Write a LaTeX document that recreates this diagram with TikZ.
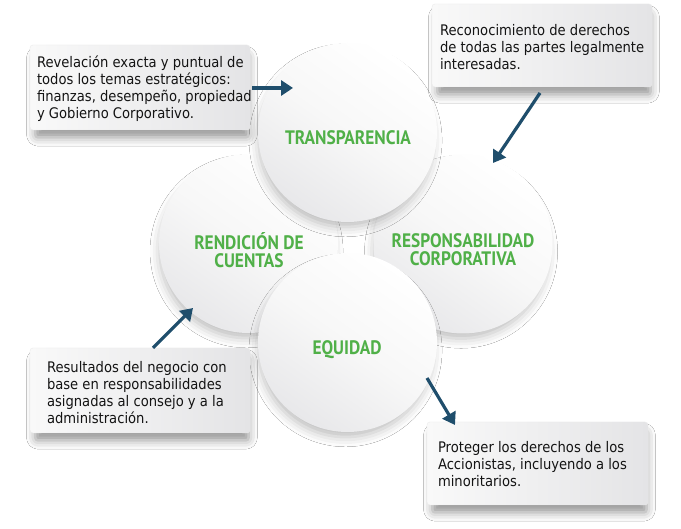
\documentclass[tikz,border=0pt]{standalone}
\usepackage{fontspec}
\usetikzlibrary{arrows.meta,shadows.blur,calc}
\newfontfamily\boxfont[FakeStretch=0.9]{DejaVu Sans}
\newfontfamily\labfont[FakeStretch=0.89]{PT Sans}
\definecolor{labgreen}{RGB}{80,176,72}
\definecolor{arrblue}{RGB}{31,78,108}
\definecolor{txtdark}{RGB}{20,20,20}
\definecolor{boxlight}{RGB}{249,249,249}
\definecolor{boxdark}{RGB}{228,228,230}
\definecolor{circedge}{RGB}{232,232,234}
\begin{document}
\begin{tikzpicture}[x=1pt,y=1pt,
  circ/.style={circle,minimum size=179pt,inner sep=0pt,
    top color=white,bottom color=circedge,middle color=white!97!black,shading angle=-35,
    blur shadow={shadow xshift=-2pt,shadow yshift=-8pt,shadow blur radius=10pt,shadow opacity=26,shadow scale=0.97}},
  lab/.style={font=\labfont\bfseries\fontsize{19.5}{18}\selectfont,text=labgreen,align=center,inner sep=0pt},
  infobox/.style={rectangle,rounded corners=3pt,inner sep=0pt,
    left color=boxlight,right color=boxdark,draw=black!8,line width=0.4pt,
    blur shadow={shadow xshift=2pt,shadow yshift=-9pt,shadow blur radius=9pt,shadow opacity=42,shadow scale=0.97}},
  infotext/.style={font=\boxfont\fontsize{14.6}{17}\selectfont,text=txtdark,align=left,inner sep=0pt,anchor=west},
  arr/.style={draw=arrblue,line width=3.2pt,-{Triangle[length=12pt,width=15pt]}}]
\useasboundingbox (0,0) rectangle (681,-529);
\fill[white] (0,0) rectangle (681,-529);
% circles (back to front)
\node[circ] (rend) at (248.5,-243.5) {};
\node[circ] (resp) at (463,-244) {};
\node[circ] (trans) at (347.5,-132.5) {};
\node[circ] (equi) at (347.5,-342.5) {};
\node[lab] (rendlab) at (249,-250) {RENDICIÓN DE\\CUENTAS};
\node[lab] (resplab) at (463,-250) {RESPONSABILIDAD\\CORPORATIVA};
\node[lab] (translab) at (348,-138) {TRANSPARENCIA};
\node[lab] (equilab) at (347,-350) {EQUIDAD};
% boxes
\node[infobox,minimum width=220pt,minimum height=85pt] (box1) at (140,-87.5) {};
\node[infotext] (t1) at ([xshift=7pt,yshift=-1pt]box1.west) {Revelación exacta y puntual de\\todos los temas estratégicos:\\finanzas, desempeño, propiedad\\y Gobierno Corporativo.};
\node[infobox,minimum width=220pt,minimum height=83pt] (box2) at (542,-45.5) {};
\node[infotext] (t2) at ([xshift=8pt,yshift=-2pt]box2.west) {Reconocimiento de derechos\\de todas las partes legalmente\\interesadas.};
\node[infobox,minimum width=220pt,minimum height=85pt] (box3) at (140,-390.5) {};
\node[infotext] (t3) at ([xshift=17pt,yshift=-2pt]box3.west) {Resultados del negocio con\\base en responsabilidades\\asignadas al consejo y a la\\administración.};
\node[infobox,minimum width=221pt,minimum height=83pt] (box4) at (537.5,-463.5) {};
\node[infotext] (t4) at ([xshift=11pt,yshift=-1pt]box4.west) {Proteger los derechos de los\\Accionistas, incluyendo a los\\minoritarios.};
% arrow end points
\coordinate (a1e) at (293,-88);
\coordinate (a2s) at (540,-93);
\coordinate (a2e) at (493,-163);
\coordinate (a3e) at (193,-308);
\coordinate (a4s) at (427,-378);
\coordinate (a4e) at (455,-425);
\draw[arr] ([yshift=-0.5pt]box1.east) ++(2pt,0) -- (a1e);
\draw[arr] (a2s) -- (a2e);
\draw[arr] ([xshift=13pt]box3.north) -- (a3e);
\draw[arr] (a4s) -- (a4e);
\end{tikzpicture}
\end{document}
